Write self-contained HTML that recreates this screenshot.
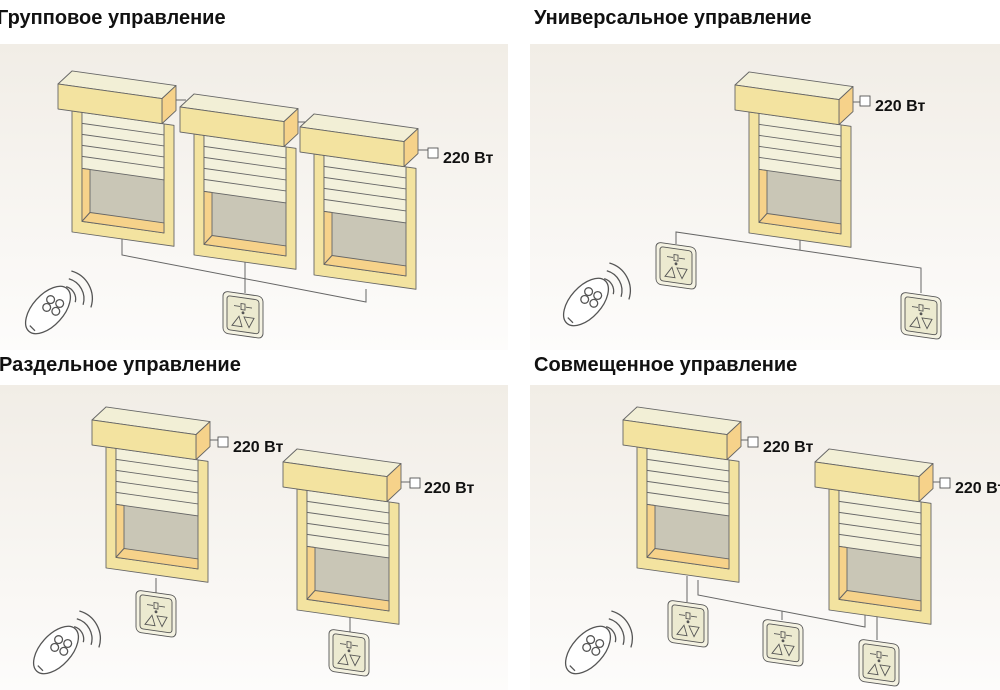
<!DOCTYPE html>
<html><head><meta charset="utf-8"><style>
body{margin:0;width:1000px;height:690px;background:#fff;overflow:hidden}
svg{display:block}
text{font-family:"Liberation Sans",sans-serif}
</style></head><body>
<svg width="1000" height="690" viewBox="0 0 1000 690" xmlns="http://www.w3.org/2000/svg">
<defs>
<linearGradient id="bg" x1="0" y1="0" x2="0" y2="1"><stop offset="0" stop-color="#f1ede6"/><stop offset="1" stop-color="#fdfcfb"/></linearGradient>
<g id="win" stroke="#666" stroke-width="0.9" stroke-linejoin="round">
<rect x="14" y="25" width="102" height="121" fill="#f3e3a0"/>
<rect x="24" y="25" width="82" height="109" fill="#c9c6b6"/>
<rect x="24" y="25" width="82" height="56" fill="#f3f1dc"/>
<path d="M24 36H106M24 47H106M24 58H106M24 69H106" fill="none"/>
<polygon points="24,81 32,81 32,124 24,134" fill="#f6d28a"/>
<polygon points="24,134 106,134 106,124 32,124" fill="#f6d28a"/>
<polygon points="0,0 104,0 118,-15 14,-15" fill="#f2efd6"/>
<polygon points="104,0 118,-15 118,10 104,25" fill="#f6d28a"/>
<rect x="0" y="0" width="104" height="25" fill="#f3e3a0"/>
</g>
<g id="sw" stroke="#555" stroke-width="0.9" fill="none">
<rect x="0" y="0" width="40" height="42" rx="5" fill="#f4f2e2"/>
<rect x="4" y="4" width="32" height="34" rx="3" fill="#ecead0"/>
<rect x="18" y="10" width="4" height="6"/><path d="M11 13H17M23 13H29"/><circle cx="20" cy="19" r="1" fill="#555"/>
<polygon points="9,33 16,23 19,33"/><polygon points="21,23 31,23 26,33"/>
</g>
<g id="rem" stroke="#555" stroke-width="1" fill="none">
<ellipse cx="0" cy="0" rx="22" ry="12" transform="rotate(-48)" fill="#fff"/>
<circle cx="2" cy="-8" r="3"/><circle cx="9" cy="-5" r="3"/><circle cx="-1" cy="-2" r="3"/><circle cx="6" cy="1" r="3"/>
<path d="M-14 12 L-10 16"/>
<path d="M14 -18 A10 10 0 0 1 21 -6"/><path d="M16 -24 A16 16 0 0 1 27 -4"/><path d="M18 -30 A22 22 0 0 1 33 -2"/>
</g>
</defs>
<rect x="0" y="44" width="508" height="306" fill="url(#bg)"/>
<rect x="530" y="44" width="470" height="306" fill="url(#bg)"/>
<rect x="0" y="385" width="508" height="305" fill="url(#bg)"/>
<rect x="530" y="385" width="470" height="305" fill="url(#bg)"/>
<g font-size="20" font-weight="bold" fill="#111">
<text x="-3" y="24">Групповое управление</text>
<text x="534" y="24">Универсальное управление</text>
<text x="-1" y="371">Раздельное управление</text>
<text x="534" y="371">Совмещенное управление</text>
</g>
<g stroke="#666" stroke-width="1" fill="none">
<path d="M122 236V255L366 302V289"/><path d="M245 262V293"/>
<path d="M174 100H186"/><path d="M294 122H305"/><path d="M414 150H428"/>
<path d="M676 244V232L921 268V293"/><path d="M800 236V250"/><path d="M849 102H860"/>
<path d="M156 578V595"/><path d="M350 617V632"/><path d="M205 440H218"/><path d="M396 482H410"/>
<path d="M687 576V602"/><path d="M698 580V595L865 627V613"/><path d="M782 611V620"/><path d="M877 617V640"/>
<path d="M736 440H748"/><path d="M928 482H940"/>
</g>
<g fill="#fff" stroke="#555" stroke-width="0.9">
<rect x="428" y="148" width="10" height="10"/><rect x="860" y="96" width="10" height="10"/>
<rect x="218" y="437" width="10" height="10"/><rect x="410" y="478" width="10" height="10"/>
<rect x="748" y="437" width="10" height="10"/><rect x="940" y="478" width="10" height="10"/>
</g>
<g font-size="16" font-weight="bold" fill="#111">
<text x="443" y="163">220 Вт</text><text x="875" y="111">220 Вт</text>
<text x="233" y="452">220 Вт</text><text x="424" y="493">220 Вт</text>
<text x="763" y="452">220 Вт</text><text x="955" y="493">220 Вт</text>
</g>
<use href="#win" transform="translate(58,84) skewY(8)"/>
<use href="#win" transform="translate(180,107) skewY(8)"/>
<use href="#win" transform="translate(300,127) skewY(8)"/>
<use href="#win" transform="translate(735,85) skewY(8)"/>
<use href="#win" transform="translate(92,420) skewY(8)"/>
<use href="#win" transform="translate(283,462) skewY(8)"/>
<use href="#win" transform="translate(623,420) skewY(8)"/>
<use href="#win" transform="translate(815,462) skewY(8)"/>
<use href="#sw" transform="translate(223,291) skewY(8)"/>
<use href="#sw" transform="translate(656,242) skewY(8)"/>
<use href="#sw" transform="translate(901,292) skewY(8)"/>
<use href="#sw" transform="translate(136,590) skewY(8)"/>
<use href="#sw" transform="translate(329,629) skewY(8)"/>
<use href="#sw" transform="translate(668,600) skewY(8)"/>
<use href="#sw" transform="translate(763,619) skewY(8)"/>
<use href="#sw" transform="translate(859,639) skewY(8)"/>
<use href="#rem" transform="translate(48,310) scale(1.3)"/>
<use href="#rem" transform="translate(586,302) scale(1.3)"/>
<use href="#rem" transform="translate(56,650) scale(1.3)"/>
<use href="#rem" transform="translate(588,650) scale(1.3)"/>
</svg>
</body></html>
